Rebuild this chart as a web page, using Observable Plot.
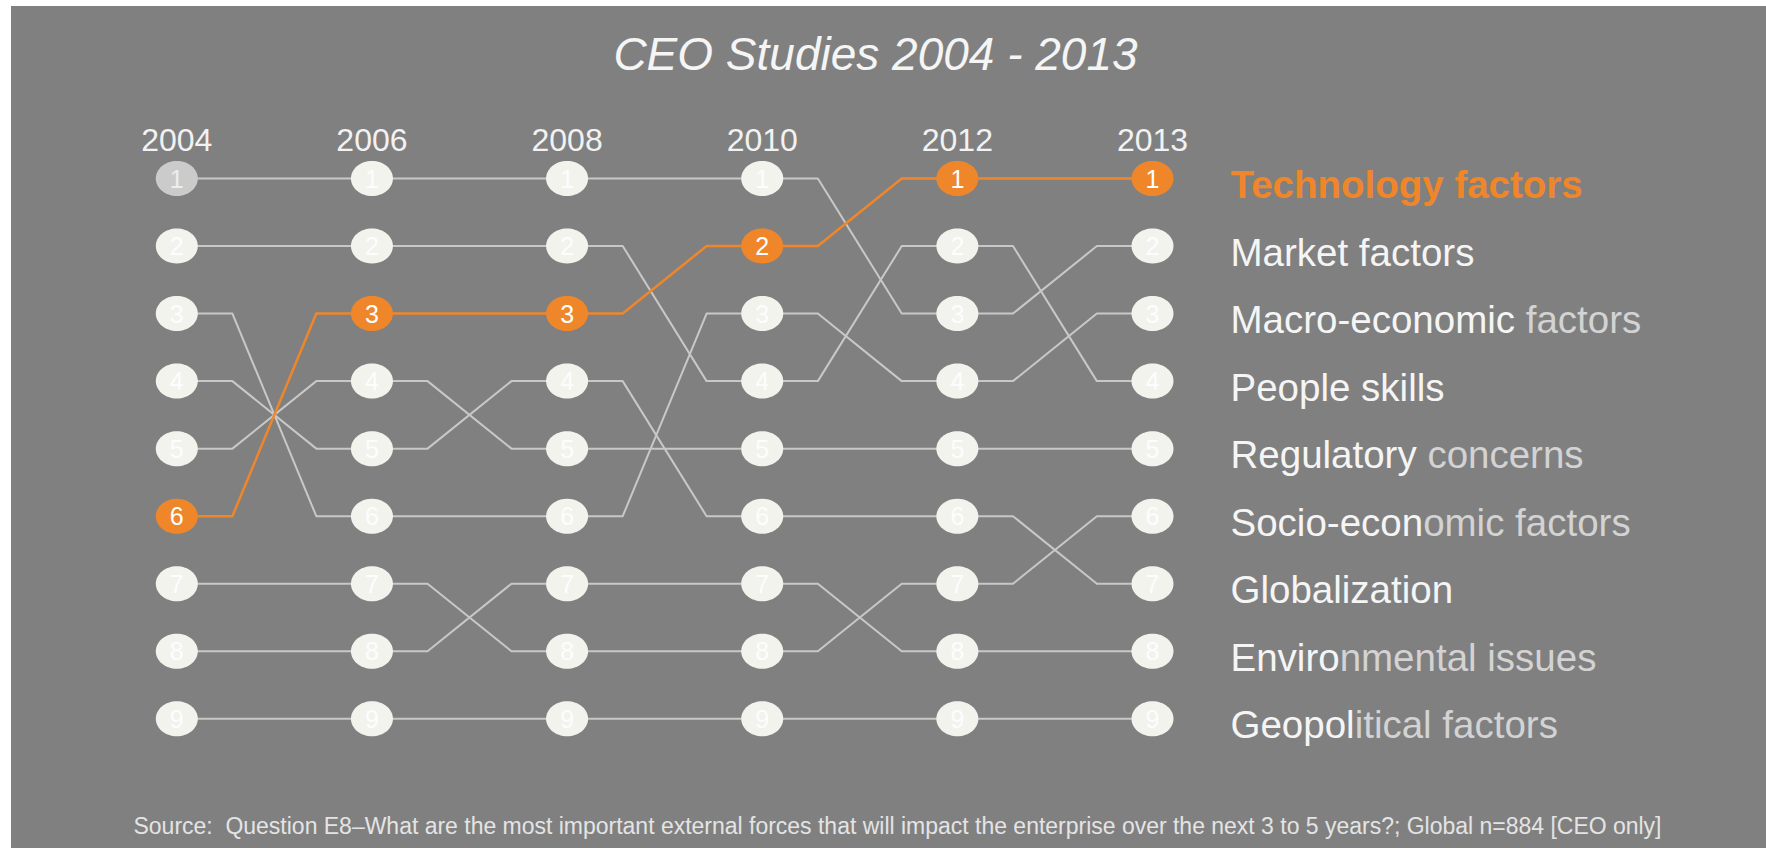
<!DOCTYPE html>
<html><head><meta charset="utf-8">
<script src="https://cdn.jsdelivr.net/npm/d3@7"></script>
<script src="https://cdn.jsdelivr.net/npm/@observablehq/plot@0.6"></script>
<style>
html,body{margin:0;padding:0;background:#ffffff;}
#chart{position:absolute;left:11px;top:6px;}
#chart svg{display:block;}
</style></head>
<body><div id="chart"></div>
<script>
// ---- data ----
const title = "CEO Studies 2004 - 2013";
const source = "Source:\u00a0 Question E8\u2013What are the most important external forces that will impact the enterprise over the next 3 to 5 years?; Global n=884 [CEO only]";
const years = ["2004", "2006", "2008", "2010", "2012", "2013"];
const factors = ["Technology factors", "Market factors", "Macro-economic factors", "People skills",
  "Regulatory concerns", "Socio-economic factors", "Globalization", "Environmental issues", "Geopolitical factors"];
// bright leading part of each label (the rest is drawn dimmer, as in the original)
const brightParts = ["Technology factors", "Market factors", "Macro-economic", "People skills",
  "Regulatory", "Socio-econ", "Globalization", "Enviro", "Geopol"];
// rank of each factor (same order as `factors`) in each study
const rank2004 = [6, 1, 3, 2, 5, 7, 4, 8, 9];
const rank2006 = [3, 1, 6, 2, 4, 7, 5, 8, 9];
const rank2008 = [3, 1, 6, 2, 5, 8, 4, 7, 9];
const rank2010 = [2, 1, 3, 4, 5, 8, 6, 7, 9];
const rank2012 = [1, 3, 4, 2, 5, 7, 6, 8, 9];
const rank2013 = [1, 2, 3, 4, 5, 6, 7, 8, 9];
const highlight = "Technology factors";

// ---- derived tables ----
const ranks = [rank2004, rank2006, rank2008, rank2010, rank2012, rank2013];
const nodes = [];
ranks.forEach((rk, j) => factors.forEach((f, i) => nodes.push({col: j, rank: rk[i], factor: f})));

const flat = 0.285; // share of each gap drawn flat next to a node
const linePts = [];
factors.forEach((f, i) => {
  for (let j = 0; j < ranks.length - 1; j++) {
    linePts.push({factor: f, x: j, r: ranks[j][i]});
    linePts.push({factor: f, x: j + flat, r: ranks[j][i]});
    linePts.push({factor: f, x: j + 1 - flat, r: ranks[j + 1][i]});
  }
  linePts.push({factor: f, x: ranks.length - 1, r: ranks[ranks.length - 1][i]});
});

const labels = factors.map((f, i) => ({factor: f, bright: brightParts[i], rank: rank2013[i]}));

const ORANGE = "#f0862a";
const BRIGHT = "#f5f5f5", DIM = "#d3d3d3";
const nodeFill = d => d.factor === highlight ? ORANGE : (d.col === 0 && d.rank === 1 ? "#cbcbcb" : "#f3f3ee");
const numFill = d => d.factor === highlight ? "#ffffff" : (d.col === 0 && d.rank === 1 ? "#eeeeee" : "#fdfdfd");

const ellipse = {
  draw(ctx) {
    const rx = 21, ry = 17.5, k = 0.5523;
    ctx.moveTo(rx, 0);
    ctx.bezierCurveTo(rx, ry * k, rx * k, ry, 0, ry);
    ctx.bezierCurveTo(-rx * k, ry, -rx, ry * k, -rx, 0);
    ctx.bezierCurveTo(-rx, -ry * k, -rx * k, -ry, 0, -ry);
    ctx.bezierCurveTo(rx * k, -ry, rx, -ry * k, rx, 0);
    ctx.closePath();
  }
};

const FONT = "Liberation Sans, Arial, Helvetica, sans-serif";
const lastCol = years.length - 1;

const chart = Plot.plot({
  width: 1755,
  height: 842,
  margin: 0,
  style: {background: "#808080", fontFamily: FONT, overflow: "visible"},
  x: {domain: [0, lastCol], range: [165.3, 1141], axis: null},
  y: {domain: [1, 9], range: [172, 712.3], axis: null},
  color: {type: "identity"},
  marks: [
    Plot.line(linePts.filter(d => d.factor !== highlight), {x: "x", y: "r", z: "factor", stroke: "#c8c8c8", strokeWidth: 2}),
    Plot.line(linePts.filter(d => d.factor === highlight), {x: "x", y: "r", z: "factor", stroke: ORANGE, strokeWidth: 2.5}),
    Plot.dot(nodes, {x: "col", y: "rank", symbol: ellipse, fill: nodeFill, stroke: "none"}),
    Plot.text(nodes, {x: "col", y: "rank", text: d => String(d.rank), fill: numFill, fontSize: 25, dy: 1}),
    Plot.text(years, {x: (d, i) => i, y: () => 1, text: d => d, fontSize: 32, fill: "#f2f2f2", lineAnchor: "bottom", dy: -27.3}),
    Plot.text(labels.filter(d => d.factor !== highlight), {x: () => lastCol, y: "rank", text: "factor", textAnchor: "start", lineAnchor: "bottom", dx: 78, dy: 19.5, fontSize: 38.5, fill: BRIGHT}),
    Plot.text(labels.filter(d => d.factor === highlight), {x: () => lastCol, y: "rank", text: "factor", textAnchor: "start", lineAnchor: "bottom", dx: 78, dy: 19, fontSize: 38.5, fontWeight: "bold", fill: ORANGE}),
    Plot.text([title], {text: d => d, frameAnchor: "top", dx: -13.5, dy: 63.5, lineAnchor: "bottom", fontSize: 46, fontStyle: "italic", fill: "#f5f5f5"}),
    Plot.text([source], {text: d => d, frameAnchor: "bottom", dx: 8.5, dy: -15, lineAnchor: "bottom", fontSize: 23, fill: "#e4e4e4"})
  ]
});
document.getElementById("chart").appendChild(chart);

// post-process text: narrow source line; two-tone factor labels
d3.select(chart).selectAll("text").each(function () {
  const t = this.textContent;
  if (t.startsWith("Source")) {
    this.setAttribute("textLength", 1528);
    this.setAttribute("lengthAdjust", "spacingAndGlyphs");
    return;
  }
  const lab = labels.find(l => l.factor === t);
  if (lab && lab.factor !== highlight && lab.bright !== lab.factor) {
    const target = this.querySelector("tspan") || this;
    target.textContent = "";
    const ns = "http://www.w3.org/2000/svg";
    const a = document.createElementNS(ns, "tspan");
    a.textContent = lab.bright;
    a.setAttribute("fill", BRIGHT);
    const b = document.createElementNS(ns, "tspan");
    b.textContent = lab.factor.slice(lab.bright.length).replace(/^ /, "\u00a0");
    b.setAttribute("fill", DIM);
    target.appendChild(a);
    target.appendChild(b);
  }
});
</script>
</body></html>
